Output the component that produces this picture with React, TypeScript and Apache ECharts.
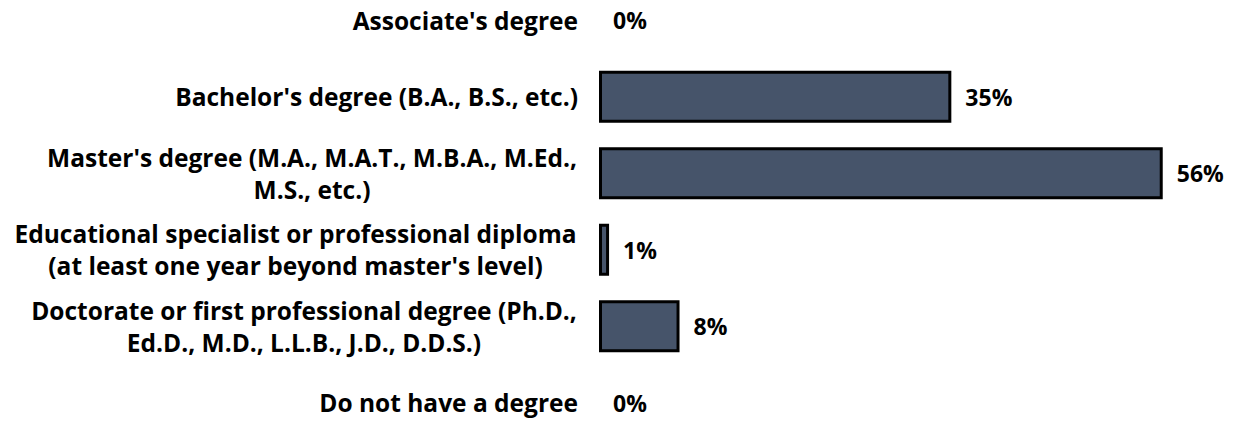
import React, { useEffect, useRef } from "react";
import * as echarts from "echarts";

const categories = [
  "Associate's degree",
  "Bachelor's degree (B.A., B.S., etc.)",
  "Master's degree (M.A., M.A.T., M.B.A., M.Ed.,\nM.S., etc.)",
  "Educational specialist or professional diploma\n(at least one year beyond master's level)",
  "Doctorate or first professional degree (Ph.D.,\nEd.D., M.D., L.L.B., J.D., D.D.S.)",
  "Do not have a degree",
];
const values = [0, 35, 56, 1, 8, 0];

const FONT_FAMILY = "'Open Sans', sans-serif";
const FONT_SIZE = 24.5;
const VALUE_FONT_SIZE = 23;

function measure(text: string): number {
  const c = document.createElement("canvas");
  const ctx = c.getContext("2d")!;
  ctx.font = `bold ${FONT_SIZE}px ${FONT_FAMILY}`;
  return ctx.measureText(text).width;
}

export default function App() {
  const ref = useRef<HTMLDivElement>(null);
  useEffect(() => {
    if (!ref.current) return;
    const chart = echarts.init(ref.current, undefined, { renderer: "svg" });
    const rich: Record<string, any> = {};
    categories.forEach((c, i) => {
      const lines = c.split("\n");
      const w = Math.ceil(Math.max(...lines.map(measure))) + 2;
      rich["r" + i] = {
        width: lines.length > 1 ? w : undefined,
        align: lines.length > 1 ? "center" : "right",
        fontFamily: FONT_FAMILY,
        fontWeight: "bold",
        fontSize: FONT_SIZE,
        color: "#000",
        lineHeight: 32,
      };
    });
    chart.setOption({
      animation: false,
      grid: { left: 599, right: 36, top: 0, bottom: 0, containLabel: false },
      xAxis: { type: "value", min: 0, max: 60, show: false },
      yAxis: {
        type: "category",
        data: categories,
        inverse: true,
        axisLine: { show: false },
        axisTick: { show: false },
        axisLabel: {
          margin: 21,
          align: "right",
          formatter: (v: string) => {
            const i = categories.indexOf(v);
            return v
              .split("\n")
              .map((l) => `{r${i}|${l}}`)
              .join("\n");
          },
          rich,
        },
      },
      series: [
        {
          type: "bar",
          data: values.map((v) => ({
            value: v,
            itemStyle: v === 0 ? { borderWidth: 0 } : undefined,
          })),
          barWidth: 52,
          itemStyle: { color: "#46546a", borderColor: "#000", borderWidth: 3 },
          label: {
            show: true,
            position: "right",
            distance: 14,
            formatter: "{c}%",
            fontFamily: FONT_FAMILY,
            fontWeight: "bold",
            fontSize: VALUE_FONT_SIZE,
            color: "#000",
          },
        },
      ],
    });
    return () => chart.dispose();
  }, []);
  return (
    <div style={{ position: "fixed", left: 0, top: 0, width: 1239, height: 421, overflow: "hidden", background: "#fff" }}>
      <div ref={ref} style={{ position: "absolute", left: 0, top: -18, width: 1239, height: 459 }} />
    </div>
  );
}
